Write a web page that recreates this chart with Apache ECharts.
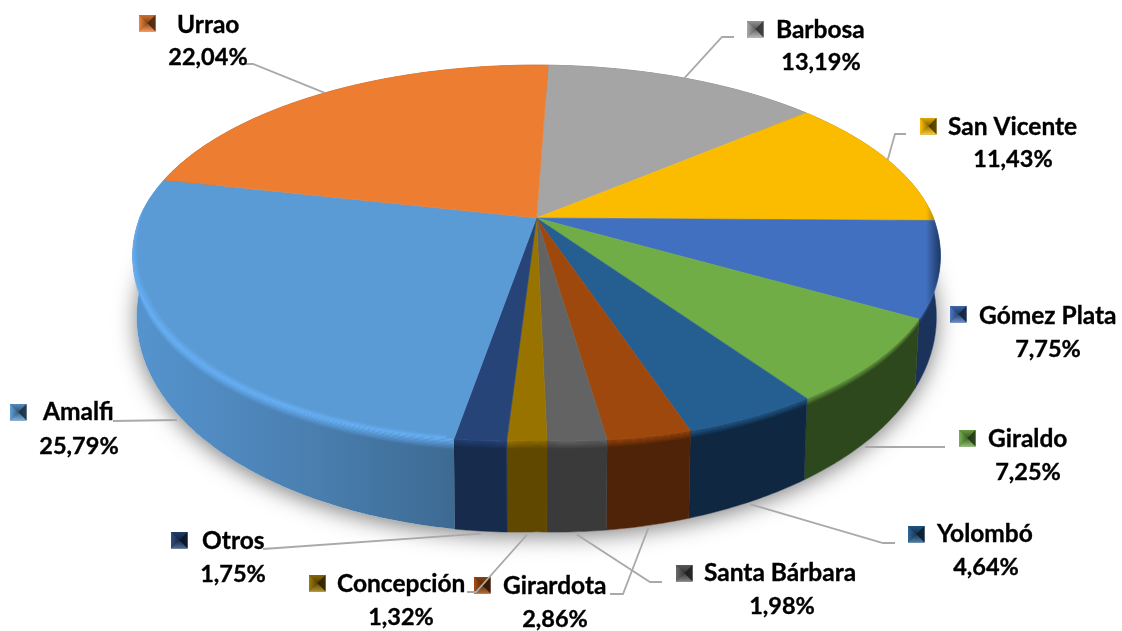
<!DOCTYPE html>
<html><head><meta charset="utf-8">
<style>html,body{margin:0;padding:0;background:#fff}#c{width:1122px;height:631px}</style>
<script src="https://cdn.jsdelivr.net/npm/echarts@6/dist/echarts.min.js"></script>
</head><body><div id="c"></div>
<script>
const categories = ['Barbosa','San Vicente','Gómez Plata','Giraldo','Yolombó','Girardota','Santa Bárbara','Concepción','Otros','Amalfi','Urrao'];
const shares = [13.19,11.43,7.75,7.25,4.64,2.86,1.98,1.32,1.75,25.79,22.04];
const shareLabels = ['13,19%','11,43%','7,75%','7,25%','4,64%','2,86%','1,98%','1,32%','1,75%','25,79%','22,04%'];

const topColors = ['#A5A5A5','#FBBC00','#4270C0','#70AD47','#255E91','#9E480E','#636363','#997300','#264478','#5B9BD5','#ED7D31'];
const wallColors = ['#5A5A5A','#7A5E00','#1B325A','#2E481D','#0F2740','#4E2308','#3A3A3A','#604800','#172B4C','#4A82B5','#8A4A1C'];

// label placement: key box left/top, name left/centre y, percent centre, elbow points of the leader
const labelLayout = {
  'Urrao':        {key:[139,15], name:[177,25],  pct:[208,57],  from:[[242,64],[253,64]], anchor:'top'},
  'Barbosa':      {key:[747,21], name:[776,30],  pct:[821,62],  from:[[734,37],[722,37]], anchor:'top'},
  'San Vicente':  {key:[920,118],name:[948,127], pct:[1013,159],from:[[906,134],[895,134]], anchor:'top'},
  'Gómez Plata':  {key:[950,306],name:[979,316], pct:[1048,349],from:null},
  'Giraldo':      {key:[959,430],name:[988,439], pct:[1028,472],from:[[945,447],[865,447]], anchor:'none'},
  'Yolombó':      {key:[908,526],name:[937,534], pct:[986,567], from:[[895,543],[883,543]], anchor:'bottom'},
  'Santa Bárbara':{key:[676,565],name:[704,573], pct:[782,606], from:[[662,582],[650,582]], anchor:'bottom'},
  'Girardota':    {key:[474,577],name:[503,586], pct:[555,619], from:[[610,594],[623,594]], anchor:'bottom'},
  'Concepción':   {key:[309,575],name:[337,584], pct:[401,617], from:[[467,592],[476,592]], anchor:'bottom'},
  'Otros':        {key:[171,532],name:[202,541], pct:[233,574], from:[[263,549]], anchor:'bottom'},
  'Amalfi':       {key:[10,404], name:[43,412],  pct:[79,446],  from:[[113,421],[177,420]], anchor:'none'}
};

// pie projection
const CX=536.5, CY=218, A=397, B=181, K=0.184, START=2, FLAT=7;
const total = shares.reduce((a,b)=>a+b,0);
function rim(deg){
  const t=deg*Math.PI/180, u=Math.sin(t), v=Math.cos(t), w=1+K*v;
  const dy = v<0 ? FLAT*Math.pow(Math.abs(Math.sin(2*t)),0.7) : 0;
  return [CX+A*u/w, CY-B*v/w+dy, dy];
}
function drop(p,f){ // f=0 top rim, f=1 bottom rim
  const bx=CX+(p[0]-CX)*0.99, by=1.157*(p[1]-p[2]/2)+22.8;
  return [p[0]+(bx-p[0])*f, p[1]+(by-p[1])*f];
}
function sliceAngles(i){
  let c=0; for(let j=0;j<i;j++) c+=shares[j];
  return [START+c/total*360, START+(c+shares[i])/total*360];
}
function arc(a0,a1){
  const n=Math.max(4,Math.ceil(Math.abs(a1-a0)*1.5)), pts=[];
  for(let k=0;k<=n;k++) pts.push(rim(a0+(a1-a0)*k/n));
  return pts;
}
function band(pts,f0,f1){
  return pts.map(p=>drop(p,f0)).concat(pts.slice().reverse().map(p=>drop(p,f1)));
}
function rgba(hex,a){
  const n=parseInt(hex.slice(1),16);
  return 'rgba('+(n>>16)+','+((n>>8)&255)+','+(n&255)+','+a+')';
}
function shade(hex,f){
  const n=parseInt(hex.slice(1),16);
  const m=c=>Math.min(255,Math.round(f>1?c+(255-c)*(f-1):c*f));
  return 'rgb('+m(n>>16)+','+m((n>>8)&255)+','+m(n&255)+')';
}
const amalfiIdx=categories.indexOf('Amalfi');
const HIGHLIGHT='#6BB6FF';

function renderShadow(){
  const pts=arc(0,360).map(p=>drop(p,1));
  return {type:'polygon',shape:{points:pts},
    style:{fill:'#fff',shadowBlur:22,shadowColor:'rgba(0,0,0,0.5)',shadowOffsetY:4}};
}
function renderWall(params){
  const i=params.dataIndex, [a0,a1]=sliceAngles(i), pts=arc(a0,a1);
  const children=[];
  const fill = i===amalfiIdx
    ? {type:'linear',global:true,x:135,y:0,x2:455,y2:0,colorStops:[{offset:0,color:'#5594CE'},{offset:.55,color:'#4A7FB0'},{offset:1,color:'#3D6A92'}]}
    : wallColors[i];
  children.push({type:'polygon',shape:{points:band(pts,0,1)},style:{fill:fill,stroke:i===amalfiIdx?null:fill,lineWidth:.5}});
  const bevelColor = i===amalfiIdx ? HIGHLIGHT : topColors[i];
  const steps=8, depth=i===amalfiIdx?0.12:0.09;
  for(let s=0;s<steps;s++){
    children.push({type:'polygon',shape:{points:band(pts,depth*s/steps,depth*(s+1)/steps)},
      style:{fill:rgba(bevelColor,1-(s+.5)/steps)}});
  }
  return {type:'group',children};
}
// soft bright band on the inner side of the rim of the large front-left slice
function innerGlow(a0,a1){
  const out=[], hiEnd=Math.min(a1,276), loEnd=a0+1, n=80, steps=6;
  const ring=(r)=>{
    const p=[];
    for(let k=0;k<=n;k++){
      const th=loEnd+(hiEnd-loEnd)*k/n, q=rim(th);
      const taper=Math.min(1,(hiEnd-th)/30);
      const rr=1-r*taper;
      p.push([CX+(q[0]-CX)*rr, 252+(q[1]-252)*rr]);
    }
    return p;
  };
  for(let s=0;s<steps;s++){
    const o=ring(0.022*s/steps), inn=ring(0.022*(s+1)/steps);
    out.push({type:'polygon',shape:{points:o.concat(inn.reverse())},style:{fill:rgba(HIGHLIGHT,0.85*(1-(s+.5)/steps))}});
  }
  return out;
}
function renderTop(params){
  const i=params.dataIndex, [a0,a1]=sliceAngles(i);
  const pts=[[CX,CY]].concat(arc(a0,a1).map(p=>[p[0],p[1]]));
  let children=[{type:'polygon',shape:{points:pts},style:{fill:topColors[i],stroke:topColors[i],lineWidth:.6}}];
  if(a1<125 && a1>85){
    // the bevel turns dark along the right-hand edge of the top face
    children.push({type:'polygon',shape:{points:pts},style:{fill:{type:'linear',global:true,x:926,y:0,x2:941,y2:0,
      colorStops:[{offset:0,color:rgba(wallColors[i],0)},{offset:1,color:rgba(wallColors[i],.95)}]}}});
  }
  if(i===amalfiIdx) children=children.concat(innerGlow(a0,a1));
  return {type:'group',children};
}
const FONT='Lato';
function renderLabel(params){
  const i=params.dataIndex, name=categories[i], L=labelLayout[name], c=topColors[i];
  const ch=[];
  if(L.from){
    const [a0,a1]=sliceAngles(i), mid=rim((a0+a1)/2);
    const pts=L.from.slice();
    if(L.anchor==='bottom') pts.push(drop(mid,1.03));
    if(L.anchor==='top') pts.push([mid[0],mid[1]]);
    ch.push({type:'polyline',shape:{points:pts},style:{stroke:'#A9A9A9',lineWidth:1.8,fill:null}});
  }
  const [kx,ky]=L.key, S=16.5, mx=kx+S/2, my=ky+S/2;
  const grad=(x,y,x2,y2,c0,c1)=>({type:'linear',x,y,x2,y2,colorStops:[{offset:0,color:c0},{offset:1,color:c1}]});
  const tri=(p,f)=>({type:'polygon',shape:{points:p},style:{fill:f,stroke:null}});
  ch.push({type:'rect',shape:{x:kx,y:ky,width:S,height:S},style:{fill:shade(c,.6)}});
  ch.push(tri([[kx,ky],[kx+S,ky],[mx,my]],grad(0,0,0,1,shade(c,.9),shade(c,.5))));
  ch.push(tri([[kx,ky],[kx,ky+S],[mx,my]],grad(0,0,1,0,shade(c,1.05),shade(c,.6))));
  ch.push(tri([[kx+S,ky],[kx+S,ky+S],[mx,my]],grad(0,0,1,0,shade(c,.3),shade(c,.4))));
  ch.push(tri([[kx,ky+S],[kx+S,ky+S],[mx,my]],grad(0,0,0,1,shade(c,.6),shade(c,1.2))));
  const txt=(t,x,y,al,sz)=>({type:'text',style:{text:t,x:x,y:y,align:al,verticalAlign:'middle',
    fontFamily:FONT,fontWeight:'bold',fontSize:sz,fill:'#000',stroke:'#000',lineWidth:.35}});
  ch.push(txt(name,L.name[0],L.name[1],'left',24.5));
  ch.push(txt(shareLabels[i],L.pct[0],L.pct[1],'center',23.5));
  return {type:'group',children:ch};
}
const rows=shares.map((v,i)=>({name:categories[i],value:[i,v]}));
const option={
  animation:false,backgroundColor:'#fff',
  series:[
    {type:'custom',coordinateSystem:'none',z:1,silent:true,data:[{value:[0,total]}],renderItem:renderShadow},
    {type:'custom',coordinateSystem:'none',z:2,silent:true,data:rows,renderItem:renderWall},
    {type:'custom',coordinateSystem:'none',z:3,silent:true,data:rows,renderItem:renderTop},
    {type:'custom',coordinateSystem:'none',z:4,silent:true,data:rows,renderItem:renderLabel}
  ]
};
const chart=echarts.init(document.getElementById('c'),null,{renderer:'canvas'});
chart.setOption(option);
</script></body></html>
